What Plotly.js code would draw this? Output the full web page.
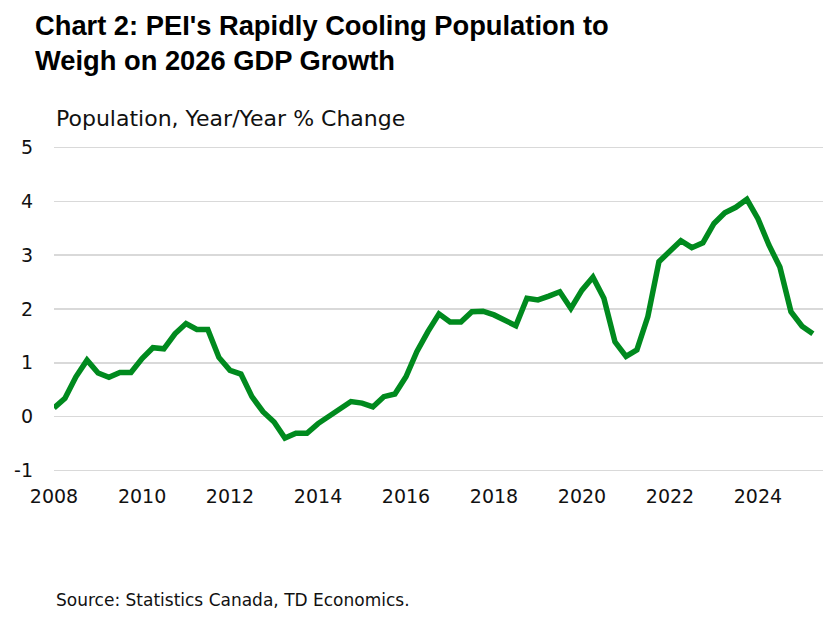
<!DOCTYPE html>
<html>
<head>
<meta charset="utf-8">
<script src="https://cdn.plot.ly/plotly-3.0.1.min.js"></script>
<style>html,body{margin:0;padding:0;background:#fff;}#chart{width:827px;height:617px;}</style>
</head>
<body>
<div id="chart"></div>
<script>
// Quarterly data, 2008 Q1 to 2025 Q2
const startYear = 2008;
const popGrowth = [
  0.16, 0.34, 0.74, 1.05, 0.81, 0.73, 0.82, 0.82,
  1.08, 1.28, 1.26, 1.54, 1.73, 1.62, 1.62, 1.10,
  0.86, 0.79, 0.37, 0.09, -0.10, -0.40, -0.31, -0.31,
  -0.13, 0.01, 0.13, 0.28, 0.25, 0.18, 0.37, 0.42,
  0.74, 1.21, 1.58, 1.91, 1.76, 1.76, 1.95, 1.96,
  1.89, 1.78, 1.69, 2.20, 2.17, 2.24, 2.32, 2.01,
  2.35, 2.59, 2.20, 1.39, 1.12, 1.24, 1.86, 2.88,
  3.09, 3.27, 3.14, 3.23, 3.59, 3.79, 3.89, 4.04,
  3.68, 3.19, 2.78, 1.95, 1.68, 1.54
];
const quarterMonths = ['01', '04', '07', '10'];
const quarterDates = popGrowth.map((_, i) =>
  (startYear + Math.floor(i / 4)) + '-' + quarterMonths[i % 4] + '-01');
const yTicks = [-1, 0, 1, 2, 3, 4, 5];
const titleText = "<b>Chart 2: PEI's Rapidly Cooling Population to<br>Weigh on 2026 GDP Growth</b>";
const yTitleText = "Population, Year/Year % Change";
const sourceText = "Source: Statistics Canada, TD Economics.";

const font = "'DejaVu Sans', 'Liberation Sans', Arial, sans-serif";
const titleFont = "'Liberation Sans', Arial, sans-serif";

const trace = {
  x: quarterDates,
  y: popGrowth,
  type: 'scatter',
  mode: 'lines',
  line: {color: '#008a1e', width: 5.5},
  hoverinfo: 'x+y'
};

const layout = {
  width: 827,
  height: 617,
  paper_bgcolor: '#ffffff',
  plot_bgcolor: '#ffffff',
  margin: {l: 54, r: 4, t: 146, b: 145},
  showlegend: false,
  font: {family: font, color: '#111111'},
  xaxis: {
    type: 'date',
    range: ['2008-01-01', '2025-06-24'],
    tick0: '2008-01-01',
    dtick: 'M24',
    tickformat: '%Y',
    showgrid: false,
    zeroline: false,
    showline: false,
    ticks: '',
    ticklabelstandoff: 11,
    tickfont: {family: font, size: 19, color: '#111111'}
  },
  yaxis: {
    range: [-1.03, 5.03],
    tickvals: yTicks,
    ticktext: yTicks.map(String),
    showgrid: true,
    gridcolor: '#d9d9d9',
    gridwidth: 1.6,
    zeroline: false,
    showline: false,
    ticks: '',
    ticklabelstandoff: 20,
    tickfont: {family: font, size: 19, color: '#111111'}
  },
  annotations: [
    {
      text: titleText,
      xref: 'paper', yref: 'paper',
      x: -21 / 769, xanchor: 'left', align: 'left',
      y: 1, yanchor: 'top', yshift: 138,
      showarrow: false,
      font: {family: titleFont, size: 27.3, color: '#000000'}
    },
    {
      text: yTitleText,
      xref: 'paper', yref: 'paper',
      x: 0, xanchor: 'left',
      y: 1, yanchor: 'bottom', yshift: 13,
      showarrow: false,
      font: {family: font, size: 22, color: '#111111'}
    },
    {
      text: sourceText,
      xref: 'paper', yref: 'paper',
      x: 0, xanchor: 'left',
      y: 0, yanchor: 'top', yshift: -116,
      showarrow: false,
      font: {family: font, size: 17, color: '#111111'}
    }
  ]
};

Plotly.newPlot('chart', [trace], layout, {displayModeBar: false, staticPlot: true});
</script>
</body>
</html>
